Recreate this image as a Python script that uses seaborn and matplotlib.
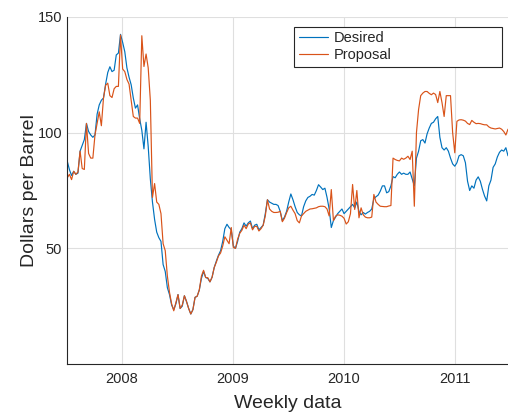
import numpy as np
import pandas as pd
import matplotlib
matplotlib.use("Agg")
import matplotlib.pyplot as plt
import seaborn as sns

# Weekly crude oil prices, dollars per barrel
start_date = "2007-07-06"

desired = [
    87.6, 84, 81.5, 83.3, 82, 82.5, 92, 94.5, 97, 104,
    100.5, 99, 98, 99, 108, 112, 114, 115, 121, 126,
    128.5, 126.4, 127, 133.6, 134.4, 142.5, 139, 135, 128, 124,
    120.7, 115, 110.6, 112, 106, 101, 93, 104.5, 94, 80,
    70, 62.5, 57, 54.6, 53, 43, 40, 33, 30, 25.5,
    23.5, 26, 30, 24, 25, 29.5, 27, 24, 21.6, 23.5,
    28.8, 29.3, 32, 37, 40, 37.4, 37, 35.5, 37.5, 41.7,
    44.5, 47, 49, 53, 58.5, 60.4, 59, 58, 51, 50,
    53, 57, 58.5, 61, 59.6, 61, 61.8, 58.5, 60, 60.4,
    58, 59, 60, 65, 71, 70, 69.5, 69, 69, 68.5,
    66, 62, 63.5, 66, 70, 73.5, 71, 68, 65.5, 64.5,
    64, 68, 70.5, 72, 72.5, 73.3, 73, 75, 77.5, 76.5,
    75.4, 76, 72, 67, 59, 62, 63.5, 65, 66, 67,
    65, 66, 67, 68, 69, 67.5, 70, 66, 64.5, 65.5,
    64.8, 65.5, 66, 67, 71.5, 72.3, 73, 74.7, 77, 77,
    74, 74.5, 77, 81, 80.5, 82, 83, 82, 82.5, 82,
    82, 83, 80, 77, 89, 92, 96.5, 97, 95.5, 99.5,
    102, 104, 104.5, 106, 107, 98, 93.5, 92.5, 93.5, 92,
    89, 86.5, 85.5, 87, 90, 90.5, 90, 87, 79, 75,
    77, 76, 79.5, 80.9, 79, 75.5, 72.6, 70.5, 77, 79.5,
    85, 86.5, 89.5, 91.5, 92.5, 92, 93.5, 90,
]

proposal = [
    80.5, 82, 79.7, 83.3, 82, 83, 92, 84.5, 84.1, 104,
    91, 89, 89, 99, 104, 109, 103, 115, 120.5, 121.4,
    116, 115.2, 119, 120, 120, 142.2, 127.5, 126.4, 123, 121,
    114, 107, 106.3, 106.3, 104, 141.9, 128.6, 134, 128, 114,
    72, 78, 70, 69, 65, 52, 49, 38, 31, 26,
    23, 26.5, 30, 24, 25.5, 29.5, 27, 24, 21.6, 23.5,
    28.8, 29.3, 32, 38, 40.5, 37.4, 37.3, 35.5, 37.5, 41.7,
    44, 46.7, 48, 51, 55, 53.5, 52, 59, 50.3, 50,
    54, 56.5, 57.8, 60, 58.5, 60.5, 61, 58, 59.5, 59.5,
    57.5, 58.5, 60, 64, 71, 67, 66, 65.5, 65.5, 65.6,
    66, 61.5, 63, 65.4, 67.5, 68.2, 66.5, 65, 62, 61,
    64, 65, 66, 66.5, 67, 67.1, 67.3, 67.5, 68, 68.2,
    68.2, 68, 67, 64, 75.4, 62, 63.9, 64.5, 64.3, 63.9,
    63, 60.5, 61.5, 65, 77.6, 66.8, 75, 63.2, 67.5, 64.5,
    63.5, 63.2, 63.2, 63.5, 73.3, 70, 69, 68.2, 68.1, 68,
    68, 68.3, 68.5, 89, 88.4, 88, 87.8, 89, 88.5, 89,
    89.8, 88.4, 92, 68.2, 100, 110, 116, 117.1, 117.8, 117.8,
    117, 116.4, 117.1, 116.5, 113, 117.8, 113, 107, 116, 116,
    116, 100, 91.3, 104.9, 105.5, 105.6, 105.4, 105, 104, 103.5,
    105.3, 104.5, 103.9, 104, 103.9, 103.6, 103.4, 103.4, 102.5, 102,
    101.8, 101.6, 101.8, 102, 101.5, 100.5, 99, 101.5,
]

series_names = ["Desired", "Proposal"]
year_ticks = ["2008", "2009", "2010", "2011"]
y_ticks = [50, 100, 150]

weeks = pd.date_range(start_date, periods=len(desired), freq="7D")
df = pd.concat([
    pd.DataFrame({"Week": weeks, "Price": desired, "Series": series_names[0]}),
    pd.DataFrame({"Week": weeks, "Price": proposal, "Series": series_names[1]}),
], ignore_index=True)

sns.set_style("white")
plt.rcParams["font.family"] = ["Liberation Sans", "DejaVu Sans"]

fig = plt.figure(figsize=(5.08, 4.15), dpi=100)
ax = fig.add_axes([67 / 508, 51 / 415, 441 / 508, 347 / 415])

palette = {"Desired": "#0072BD", "Proposal": "#D95319"}
sns.lineplot(data=df, x="Week", y="Price", hue="Series", palette=palette,
             linewidth=0.85, errorbar=None, legend=False, ax=ax)

ax.set_xlim(weeks[0] - pd.Timedelta(days=1), weeks[-1])
ax.set_ylim(0, 150)
ax.set_xticks([pd.Timestamp(f"{y}-01-01") for y in year_ticks])
ax.set_xticklabels(year_ticks)
ax.set_yticks(y_ticks)

axis_color = "#262626"
for side in ["top", "right"]:
    ax.spines[side].set_visible(False)
for side in ["left", "bottom"]:
    ax.spines[side].set_color(axis_color)
    ax.spines[side].set_linewidth(0.8)
ax.tick_params(direction="in", length=4, width=0.8, colors=axis_color,
               labelsize=10.5)
ax.tick_params(axis="y", pad=3.5)
ax.tick_params(axis="x", pad=6)
ax.grid(True, color="#dfdfdf", linewidth=0.8)
ax.set_axisbelow(True)

ax.set_xlabel("Weekly data", fontsize=14, color=axis_color, labelpad=6)
ax.set_ylabel("Dollars per Barrel", fontsize=14, color=axis_color, labelpad=0)

handles = ax.get_lines()[:2]
leg = ax.legend(handles, series_names, loc="upper left",
                bbox_to_anchor=(0.5154, 0.8646, 0.4703, 0.1066),
                mode="expand", fontsize=10.5, frameon=True, fancybox=False,
                borderaxespad=0, handlelength=2.0, handletextpad=0.4,
                labelspacing=0.2, borderpad=0.3)
frame = leg.get_frame()
frame.set_edgecolor(axis_color)
frame.set_linewidth(0.8)
frame.set_facecolor("white")
frame.set_alpha(1)
for txt in leg.get_texts():
    txt.set_color(axis_color)

fig.savefig("out.png", dpi=100, facecolor="white")
